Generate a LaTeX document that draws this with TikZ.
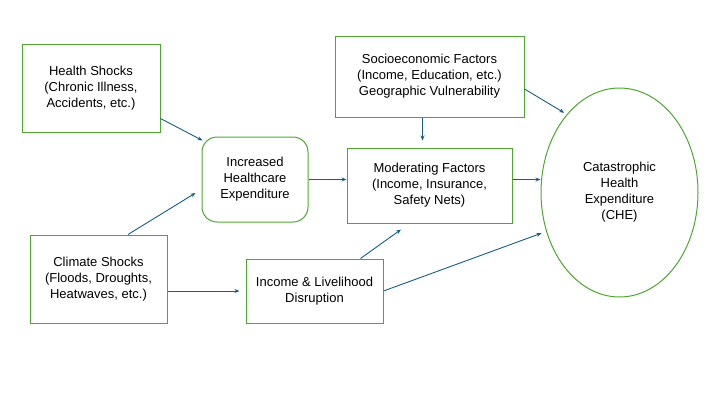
\documentclass[tikz,border=0pt]{standalone}
\usepackage{fontspec}
\setmainfont{Liberation Sans}
\usepackage{xcolor}
\usetikzlibrary{arrows.meta,shapes.geometric}
\definecolor{boxgreen}{HTML}{4EA72E}
\definecolor{arrowblue}{HTML}{156082}

\begin{document}
\begin{tikzpicture}[x=1pt,y=-1pt,>={Stealth[length=5pt,width=4pt]},
  every node/.style={font=\fontsize{13}{16}\selectfont,align=center,inner sep=0pt},
  factor/.style={draw=boxgreen,line width=1pt,rectangle},
  link/.style={->,draw=arrowblue,line width=0.9pt}]
  \useasboundingbox (0,0) rectangle (720,405);
  \node[factor,minimum width=138pt,minimum height=88pt] (health) at (91,88) {Health Shocks\\(Chronic Illness,\\Accidents, etc.)};
  \node[factor,minimum width=137pt,minimum height=88pt] (climate) at (98.5,279) {Climate Shocks\\(Floods, Droughts,\\Heatwaves, etc.)};
  \node[factor,rounded corners=15pt,minimum width=106pt,minimum height=85pt] (ihe) at (255,179.5) {Increased\\Healthcare\\Expenditure};
  \node[factor,minimum width=189pt,minimum height=81pt] (socio) at (429.5,76.5) {Socioeconomic Factors\\(Income, Education, etc.)\\Geographic Vulnerability};
  \node[factor,minimum width=165pt,minimum height=75pt] (moder) at (429.5,185.5) {Moderating Factors\\(Income, Insurance,\\Safety Nets)};
  \node[factor,minimum width=137pt,minimum height=64pt] (income) at (314.5,291) {Income \& Livelihood\\Disruption};
  \node[draw=boxgreen,line width=1pt,ellipse,minimum width=157pt,minimum height=209pt] (che) at (619.5,192.5) {Catastrophic\\Health\\Expenditure\\(CHE)};
  % connectors
  \draw[link] ([yshift=14pt]health.south east) -- ([xshift=1pt,yshift=-4pt]ihe.north west);
  \draw[link] ([xshift=29.5pt]climate.north) -- ([xshift=-6pt,yshift=-13.5pt]ihe.west);
  \draw[link] (ihe.east) -- (ihe.east -| moder.west);
  \draw[link] ([xshift=-7pt]socio.south) -- ([xshift=-7pt,yshift=7pt]moder.north);
  \draw[link,shorten >=3pt] ([yshift=-12.5pt]socio.east) -- (che.124);
  \draw[link] ([yshift=6pt]moder.east) -- ([yshift=6pt]moder.east -| che.west);
  \draw[link,shorten >=6pt] ([yshift=-12pt]climate.east) -- (income.west);
  \draw[link] ([xshift=46pt]income.north) -- ([xshift=-28.5pt,yshift=-6pt]moder.south);
  \draw[link,shorten >=5pt] (income.east) -- (che.208);
\end{tikzpicture}
\end{document}
